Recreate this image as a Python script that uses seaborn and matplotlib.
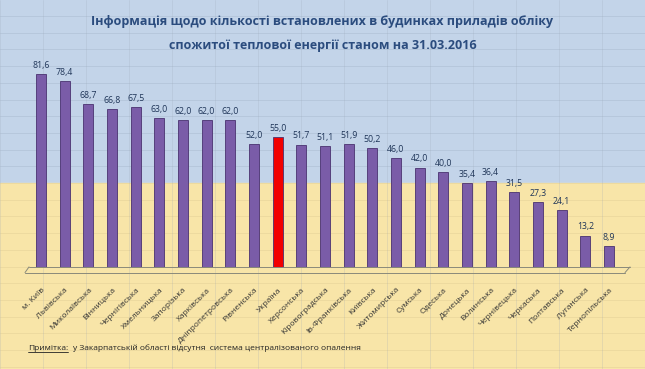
import matplotlib
matplotlib.use("Agg")
import matplotlib.pyplot as plt
import seaborn as sns
import pandas as pd
import numpy as np
from matplotlib.lines import Line2D

sns.set_style("white")
plt.rcParams["font.family"] = ["Open Sans", "DejaVu Sans"]

# Data
regions = ["м. Київ", "Львівська", "Миколаївська", "Вінницька", "Чернігівська",
           "Хмельницька", "Запорізька", "Харківська", "Дніпропетровська", "Рівненська",
           "Україна", "Херсонська", "Кіровоградська", "Ів-Франківська", "Київська",
           "Житомирська", "Сумська", "Одеська", "Донецька", "Волинська",
           "Чернівецька", "Черкаська", "Полтавська", "Луганська", "Тернопільська"]
values = [81.6, 78.4, 68.7, 66.8, 67.5, 63.0, 62.0, 62.0, 62.0, 52.0,
          55.0, 51.7, 51.1, 51.9, 50.2, 46.0, 42.0, 40.0, 35.4, 36.4,
          31.5, 27.3, 24.1, 13.2, 8.9]
highlight = "Україна"

df = pd.DataFrame({"region": regions, "value": values})
purple = "#7a5ca8"
red = "#f20000"
palette = {r: (red if r == highlight else purple) for r in regions}

W, H = 645, 369
fig = plt.figure(figsize=(W / 100, H / 100), dpi=100)

# 1. Background: blue / yellow halves with faint cell grid
bg = fig.add_axes([0, 0, 1, 1], zorder=0)
bg.set_xlim(0, W)
bg.set_ylim(H, 0)
bg.axis("off")
bg.axhspan(0, 183, color="#c3d4e9")
bg.axhspan(183, H, color="#f8e5a8")
for yy in np.arange(183 - 16.7 * 11, H, 16.7):
    bg.axhline(yy, color="#8f9fb5" if yy < 183 else "#cdb985", lw=0.5, alpha=0.35)
for xx in np.arange(0, W, 43):
    bg.axvline(xx, color="#9aa6b6", lw=0.5, alpha=0.3)

# 2. Bars
ax_left, ax_right = 25, 630
px_unit = 23.67
y_top, y_bot = 54, 274
ax = fig.add_axes([ax_left / W, 1 - y_bot / H, (ax_right - ax_left) / W, (y_bot - y_top) / H], zorder=1)
ax.patch.set_alpha(0)
sns.barplot(data=df, x="region", y="value", hue="region", palette=palette,
            legend=False, width=0.42, ax=ax, saturation=1,
            edgecolor="#4a3270", linewidth=0.6)
ax.set_xlim(-16 / px_unit, 24 + 21 / px_unit)
ax.set_ylim(-3, 90)
for s in ax.spines.values():
    s.set_visible(False)
ax.set_yticks([])
ax.set_xlabel("")
ax.set_ylabel("")

# value labels
for i, v in enumerate(values):
    ax.text(i, v + 1.8, f"{v:.1f}".replace(".", ","), ha="center", va="bottom",
            fontsize=6.3, color="#1f3558")

# tick labels
ax.set_xticks(range(len(regions)))
ax.set_xticklabels(regions, rotation=45, ha="right", rotation_mode="anchor",
                   fontsize=6.0, color="#333333")
ax.tick_params(axis="x", length=0, pad=9)

# 3D floor
fl = dict(color="#8a8a7a", lw=0.7, clip_on=False)
ax.plot([-16 / px_unit, 24 + 16 / px_unit], [-2.4, -2.4], **fl)
ax.plot([-12 / px_unit, 24 + 21 / px_unit], [0, 0], **fl)
ax.plot([-16 / px_unit, -12 / px_unit], [-2.4, 0], **fl)
ax.plot([24 + 16 / px_unit, 24 + 21 / px_unit], [-2.4, 0], **fl)

# 3. Title
fig.text(0.5, 1 - 22 / H, "Інформація щодо кількості встановлених в будинках приладів обліку",
         ha="center", va="center", fontsize=9, fontweight="bold", color="#2b4c7e")
fig.text(0.5, 1 - 45 / H, "спожитої теплової енергії станом на 31.03.2016",
         ha="center", va="center", fontsize=9, fontweight="bold", color="#2b4c7e")

# 4. Note
t1 = fig.text(28 / W, 1 - 348 / H, "Примітка:", ha="left", va="center",
              fontsize=6.0, color="#222222")
fig.canvas.draw()
bb = t1.get_window_extent()
fig.add_artist(Line2D([bb.x0 / W, bb.x1 / W], [(bb.y0 - 0.5) / H, (bb.y0 - 0.5) / H],
                      color="#222222", lw=0.6))
fig.text(bb.x1 / W + 5 / W, 1 - 348 / H,
         "у Закарпатській області відсутня  система централізованого опалення",
         ha="left", va="center", fontsize=6.0, color="#222222")

fig.savefig("out.png", dpi=100)
